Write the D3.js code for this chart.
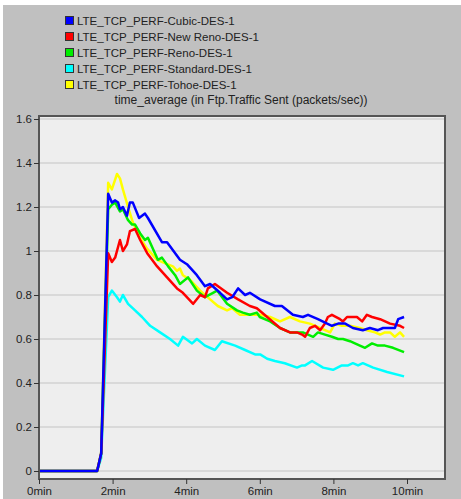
<!DOCTYPE html>
<html><head><meta charset="utf-8">
<script src="https://cdn.jsdelivr.net/npm/d3@7"></script>
<style>body{margin:0;background:#fff}svg{display:block}text{font-family:"Liberation Sans",Arial,sans-serif;fill:#222}</style>
</head><body><svg id="c" width="461" height="499"></svg>
<script>
const seriesNames = ["LTE_TCP_PERF-Cubic-DES-1","LTE_TCP_PERF-New Reno-DES-1","LTE_TCP_PERF-Reno-DES-1","LTE_TCP_PERF-Standard-DES-1","LTE_TCP_PERF-Tohoe-DES-1"];
const seriesColors = ["#0000ff","#ff0000","#00ee00","#00ffff","#ffff00"];
const yTicks = [0,0.2,0.4,0.6,0.8,1,1.2,1.4,1.6];
const xTicks = [0,2,4,6,8,10];
const xTickLabels = ["0min","2min","4min","6min","8min","10min"];
const titleText = "time_average (in Ftp.Traffic Sent (packets/sec))";

const cubicT = [0,1.58,1.69,1.88,1.98,2.07,2.15,2.20,2.28,2.39,2.47,2.55,2.72,2.88,2.96,3.34,3.48,3.83,4.02,4.29,4.51,4.65,4.92,5.11,5.25,5.41,5.60,5.73,6.01,6.41,6.60,6.90,7.17,7.31,7.58,7.83,7.96,8.13,8.32,8.53,8.80,8.99,9.21,9.35,9.54,9.67,9.76,9.92];
const cubicV = [0,0,0.08,1.26,1.22,1.23,1.22,1.19,1.20,1.16,1.22,1.22,1.15,1.17,1.15,1.04,1.04,0.96,0.94,0.89,0.84,0.85,0.81,0.78,0.79,0.83,0.80,0.81,0.78,0.75,0.75,0.71,0.70,0.71,0.69,0.67,0.66,0.67,0.67,0.65,0.64,0.65,0.64,0.65,0.65,0.65,0.69,0.70];

const newRenoT = [0,1.58,1.69,1.88,1.98,2.07,2.20,2.28,2.39,2.47,2.61,2.75,2.94,3.21,3.48,3.75,3.91,4.19,4.38,4.51,4.59,4.78,5.11,5.41,5.73,5.92,6.20,6.55,6.82,7.01,7.15,7.23,7.36,7.50,7.64,7.77,7.85,7.96,8.18,8.26,8.37,8.53,8.64,8.78,8.91,9.05,9.27,9.54,9.81,9.92];
const newRenoV = [0,0,0.08,0.99,0.95,0.97,1.05,1.00,1.03,1.09,1.10,1.05,0.99,0.93,0.88,0.83,0.81,0.76,0.80,0.79,0.83,0.85,0.81,0.78,0.75,0.74,0.70,0.65,0.63,0.63,0.62,0.61,0.65,0.66,0.64,0.67,0.70,0.71,0.69,0.68,0.70,0.70,0.70,0.68,0.71,0.70,0.69,0.67,0.66,0.65];

const renoT = [0,1.58,1.69,1.88,1.98,2.07,2.20,2.28,2.42,2.53,2.61,2.75,2.88,2.96,3.23,3.34,3.51,3.70,3.83,4.05,4.29,4.51,4.73,4.84,5.11,5.38,5.54,5.73,5.92,6.00,6.28,6.55,6.82,7.01,7.17,7.45,7.58,7.77,7.96,8.13,8.26,8.45,8.72,8.86,9.05,9.21,9.40,9.62,9.92];
const renoV = [0,0,0.08,1.19,1.21,1.22,1.18,1.19,1.14,1.12,1.12,1.08,1.05,1.06,0.96,0.97,0.93,0.89,0.85,0.88,0.82,0.79,0.81,0.82,0.76,0.73,0.72,0.71,0.72,0.70,0.68,0.65,0.63,0.63,0.63,0.61,0.63,0.62,0.61,0.60,0.60,0.59,0.57,0.56,0.58,0.57,0.57,0.56,0.54];

const standardT = [0,1.58,1.69,1.88,1.98,2.12,2.20,2.28,2.42,2.61,2.80,3.02,3.29,3.56,3.78,3.91,4.16,4.29,4.51,4.78,4.97,5.33,5.60,5.87,6.01,6.20,6.41,6.68,7.01,7.15,7.23,7.42,7.72,7.99,8.23,8.40,8.53,8.67,8.80,9.08,9.46,9.92];
const standardV = [0,0,0.06,0.79,0.82,0.79,0.77,0.80,0.76,0.73,0.70,0.66,0.63,0.60,0.57,0.61,0.58,0.60,0.57,0.55,0.59,0.57,0.55,0.53,0.53,0.51,0.50,0.49,0.47,0.48,0.48,0.50,0.47,0.46,0.48,0.48,0.49,0.48,0.49,0.47,0.45,0.43];

const tohoeT = [0,1.58,1.69,1.88,1.98,2.12,2.20,2.28,2.42,2.55,2.75,2.94,3.21,3.48,3.64,3.75,3.83,3.91,4.10,4.38,4.65,4.86,5.11,5.25,5.46,5.65,6.01,6.28,6.55,6.82,7.09,7.36,7.64,7.91,8.04,8.23,8.45,8.72,8.91,9.13,9.27,9.40,9.54,9.67,9.81,9.92];
const tohoeV = [0,0,0.08,1.31,1.28,1.35,1.33,1.28,1.20,1.13,1.06,1.01,0.96,0.94,0.93,0.91,0.92,0.89,0.87,0.82,0.78,0.75,0.73,0.74,0.71,0.71,0.71,0.70,0.68,0.70,0.68,0.67,0.65,0.63,0.67,0.66,0.66,0.65,0.64,0.63,0.62,0.63,0.63,0.61,0.63,0.61];

const seriesT = [cubicT,newRenoT,renoT,standardT,tohoeT];
const seriesV = [cubicV,newRenoV,renoV,standardV,tohoeV];

const svg = d3.select("#c");
svg.append("rect").attr("x",3).attr("y",5).attr("width",458).attr("height",494).attr("fill","#c0c0c0");

const L=39, T=116, R=445, B=479;
const x = d3.scaleLinear().domain([0,10]).range([39,407]);
const y = d3.scaleLinear().domain([0,1.6]).range([471,119]);

svg.append("rect").attr("x",L).attr("y",T).attr("width",R-L).attr("height",B-T).attr("fill","#eeeeee");
svg.append("g").selectAll("line").data(yTicks).join("line")
  .attr("x1",L+1).attr("x2",R-1).attr("y1",d=>y(d)).attr("y2",d=>y(d))
  .attr("stroke","#d2d2d2").attr("stroke-width",1.5);

const order = [4,3,2,1,0];
const line = d3.line().x(d=>x(d[0])).y(d=>y(d[1]));
order.forEach(i=>{
  const pts = seriesT[i].map((t,k)=>[t,seriesV[i][k]]);
  svg.append("path").attr("d",line(pts)).attr("fill","none")
    .attr("stroke",seriesColors[i]).attr("stroke-width",2.5).attr("stroke-linejoin","round");
});

svg.append("rect").attr("x",L).attr("y",T).attr("width",R-L).attr("height",B-T)
  .attr("fill","none").attr("stroke","#555").attr("stroke-width",2);

const yAxis = d3.axisLeft(y).tickValues(yTicks).tickSize(5).tickPadding(2).tickFormat(d=>d3.format("")(d));
const gy = svg.append("g").attr("transform",`translate(${L},0)`).call(yAxis);
gy.select(".domain").remove();
gy.selectAll("line").attr("stroke","#333");
gy.selectAll("text").style("font-size","11.5px").attr("fill","#222");

const xAxis = d3.axisBottom(x).tickValues(xTicks).tickSize(5).tickPadding(3).tickFormat((d,i)=>xTickLabels[i]);
const gx = svg.append("g").attr("transform",`translate(0,${B})`).call(xAxis);
gx.select(".domain").remove();
gx.selectAll("line").attr("stroke","#333");
gx.selectAll("text").style("font-size","11.5px").attr("fill","#222");

svg.append("text").attr("x",241).attr("y",104).attr("text-anchor","middle").style("font-size","12px").text(titleText);

const lg = svg.append("g");
seriesNames.forEach((n,i)=>{
  const cy = 21 + i*16;
  lg.append("rect").attr("x",65.5).attr("y",cy-4.5).attr("width",8).attr("height",8)
    .attr("fill",seriesColors[i]).attr("stroke","#333").attr("stroke-width",1);
  lg.append("text").attr("x",77).attr("y",cy+4).style("font-size","11.5px").text(n);
});
</script></body></html>
